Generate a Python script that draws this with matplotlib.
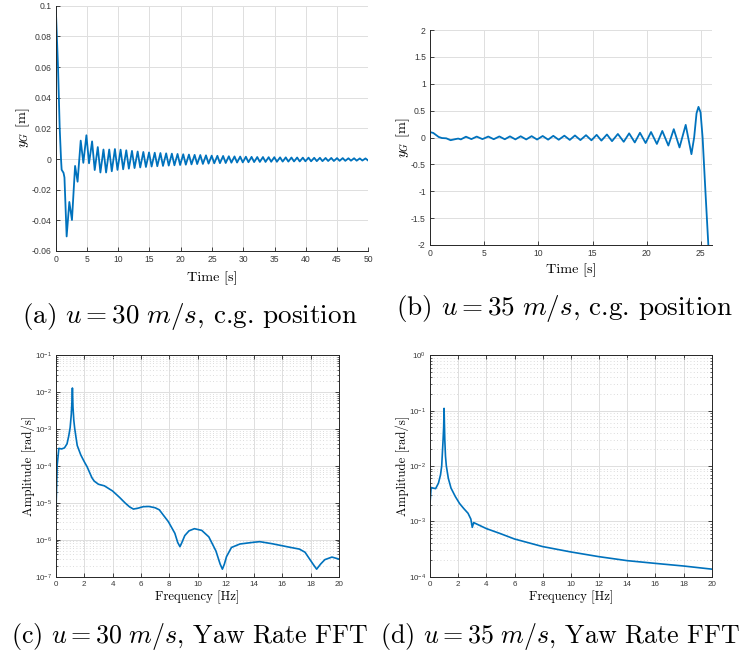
import numpy as np
import matplotlib
matplotlib.use('Agg')
import matplotlib.pyplot as plt
from matplotlib.ticker import LogLocator, NullFormatter, FuncFormatter

plt.rcParams['font.family'] = ['Liberation Sans', 'DejaVu Sans']
plt.rcParams['axes.unicode_minus'] = False

LINE = '#0072BD'
AXC = '#262626'
GRID = '#dfdfdf'
TICKC = '#383838'

# (a) u = 30 m/s, c.g. position: start transient, then oscillation extrema
t_a0 = [0.0, 0.37, 0.64, 0.85, 0.95, 1.25, 1.4, 1.75, 2.18, 2.6, 3.1, 3.5]
y_a0 = [0.1, 0.06, 0.02, 0.0, -0.007, -0.009, -0.012, -0.0505, -0.028, -0.0398, -0.0045, -0.0148]
peak_t_a = [4.00, 4.91, 5.82, 6.73, 7.64, 8.56, 9.47, 10.38, 11.29, 12.20,
            13.11, 14.02, 14.93, 15.84, 16.75, 17.67, 18.58, 19.49, 20.40, 21.31,
            22.22, 23.13, 24.04, 24.95, 25.86, 26.78, 27.69, 28.60, 29.51, 30.42,
            31.33, 32.24, 33.15, 34.06, 34.97, 35.89, 36.80, 37.71, 38.62, 39.53,
            40.44, 41.35, 42.26, 43.17, 44.08, 45.00, 45.91, 46.82, 47.73, 48.64, 49.55]
peak_y_a = [0.0120, 0.0155, 0.0115, 0.0078, 0.0062, 0.0062, 0.0065, 0.0061, 0.0057, 0.0053,
            0.0049, 0.0046, 0.0043, 0.0041, 0.0039, 0.0037, 0.0035, 0.0033, 0.0031, 0.0029,
            0.0027, 0.0026, 0.0024, 0.0022, 0.0021, 0.0020, 0.0018, 0.0017, 0.0016, 0.0015,
            0.0014, 0.0013, 0.0013, 0.0012, 0.0012, 0.0011, 0.0011, 0.0010, 0.0010, 0.0009,
            0.0009, 0.0008, 0.0008, 0.0007, 0.0007, 0.0006, 0.0006, 0.0005, 0.0005, 0.0004, 0.0004]
trough_t_a = [4.42, 5.33, 6.24, 7.15, 8.06, 8.97, 9.88, 10.79, 11.70, 12.61,
              13.52, 14.43, 15.34, 16.25, 17.16, 18.08, 18.99, 19.90, 20.81, 21.72,
              22.63, 23.54, 24.45, 25.36, 26.27, 27.19, 28.10, 29.01, 29.92, 30.83,
              31.74, 32.65, 33.56, 34.47, 35.38, 36.30, 37.21, 38.12, 39.03, 39.94,
              40.85, 41.76, 42.67, 43.58, 44.49, 45.41, 46.32, 47.23, 48.14, 49.05, 49.96]
trough_y_a = [-0.0025, -0.0028, -0.0072, -0.0088, -0.0088, -0.0080, -0.0071, -0.0067, -0.0063, -0.0059,
              -0.0055, -0.0052, -0.0049, -0.0047, -0.0045, -0.0043, -0.0041, -0.0039, -0.0037, -0.0035,
              -0.0033, -0.0032, -0.0030, -0.0028, -0.0027, -0.0026, -0.0024, -0.0023, -0.0022, -0.0021,
              -0.0020, -0.0019, -0.0019, -0.0018, -0.0018, -0.0017, -0.0017, -0.0016, -0.0016, -0.0015,
              -0.0015, -0.0014, -0.0014, -0.0013, -0.0013, -0.0012, -0.0012, -0.0011, -0.0011, -0.0010, -0.0010]
t_a_end, y_a_end = [50.0], [-0.0009]

# (b) u = 35 m/s, c.g. position
t_b0 = [0.0, 0.3, 0.8, 1.1, 1.5, 1.9, 2.35, 2.6, 2.85]
y_b0 = [0.1, 0.085, 0.01, -0.01, -0.015, -0.05, -0.03, -0.02, -0.035]
peak_t_b = [3.32, 4.31, 5.38, 6.40, 7.38, 8.37, 9.38, 10.40, 11.38, 12.40, 13.38,
            14.40, 15.38, 16.33, 17.34, 18.38, 19.38, 20.40, 21.44, 22.50, 23.60]
peak_y_b = [0.015, 0.017, 0.018, 0.020, 0.021, 0.023, 0.025, 0.028, 0.031, 0.034, 0.038,
            0.043, 0.049, 0.056, 0.066, 0.077, 0.088, 0.102, 0.122, 0.155, 0.235]
trough_t_b = [3.82, 4.84, 5.88, 6.90, 7.88, 8.88, 9.88, 10.90, 11.88, 12.90, 13.88,
              14.90, 15.82, 16.80, 17.88, 18.90, 19.90, 20.94, 22.00, 23.03, 24.13]
trough_y_b = [-0.030, -0.030, -0.032, -0.033, -0.035, -0.036, -0.038, -0.040, -0.042, -0.045, -0.048,
              -0.052, -0.058, -0.068, -0.080, -0.092, -0.103, -0.120, -0.150, -0.185, -0.310]
t_b_end = [24.38, 24.60, 24.78, 24.97, 25.16, 25.42, 25.69, 25.82]
y_b_end = [0.0, 0.45, 0.57, 0.47, 0.0, -1.0, -2.0, -2.6]

# (c) yaw rate FFT, u = 30 m/s
f_c = [0.0, 0.08, 0.2, 0.4, 0.6, 0.78, 0.9, 1.0, 1.08, 1.13, 1.16, 1.2, 1.26, 1.32, 1.4,
       1.5, 1.75, 2.0, 2.2, 2.35, 2.54, 2.7, 3.0, 3.42, 4.0, 4.5, 4.88, 5.2, 5.47, 5.8,
       6.17, 6.57, 7.0, 7.3, 7.94, 8.4, 8.6, 8.76, 8.9, 9.1, 9.4, 9.78, 10.3, 10.8, 11.3,
       11.6, 11.76, 11.9, 12.05, 12.4, 13.0, 14.0, 14.4, 15.3, 16.5, 17.2, 17.6, 17.9,
       18.2, 18.42, 18.7, 19.0, 19.5, 20.0]
amp_c = [6e-6, 1e-4, 3e-4, 2.9e-4, 3.1e-4, 4e-4, 6.5e-4, 1.1e-3, 2.5e-3, 6e-3, 1.3e-2, 4e-3,
         1.7e-3, 1.05e-3, 6.5e-4, 3.6e-4, 2e-4, 1.3e-4, 9.5e-5, 7e-5, 4.8e-5, 3.9e-5,
         3.2e-5, 2.9e-5, 2.1e-5, 1.4e-5, 1.0e-5, 7.8e-6, 6.8e-6, 7.2e-6, 7.9e-6, 8.0e-6,
         7.4e-6, 6.5e-6, 3.1e-6, 1.5e-6, 8.5e-7, 6.5e-7, 8.5e-7, 1.3e-6, 1.75e-6, 2.0e-6,
         1.8e-6, 1.2e-6, 5e-7, 2.2e-7, 1.6e-7, 2.2e-7, 3.5e-7, 6.2e-7, 7.7e-7, 8.6e-7,
         8.9e-7, 7.8e-7, 6.3e-7, 5.6e-7, 4.6e-7, 3.1e-7, 2.1e-7, 1.6e-7, 2.2e-7, 2.9e-7,
         3.4e-7, 3.0e-7]

# (d) yaw rate FFT, u = 35 m/s
f_d = [0.0, 0.08, 0.2, 0.4, 0.6, 0.75, 0.83, 0.93, 0.97, 1.0, 1.05, 1.1, 1.16, 1.3, 1.49,
       1.8, 2.1, 2.4, 2.7, 2.9, 3.0, 3.1, 3.5, 4.0, 5.0, 6.0, 8.0, 10.0, 12.0, 14.0, 16.0,
       18.0, 20.0]
amp_d = [2.1e-3, 4.1e-3, 4.0e-3, 3.9e-3, 4.9e-3, 7e-3, 1e-2, 3e-2, 5e-2, 0.11, 3e-2, 1.5e-2,
         1e-2, 6e-3, 4e-3, 2.8e-3, 2.1e-3, 1.7e-3, 1.4e-3, 1.1e-3, 7.8e-4, 9.5e-4, 8.5e-4,
         7.4e-4, 6.0e-4, 4.8e-4, 3.5e-4, 2.8e-4, 2.3e-4, 1.95e-4, 1.74e-4, 1.56e-4, 1.37e-4]

yt_a = [-0.06, -0.04, -0.02, 0, 0.02, 0.04, 0.06, 0.08, 0.1]
yt_b = [-2, -1.5, -1, -0.5, 0, 0.5, 1, 1.5, 2]

captions = [r'(a) $u = 30\ m/s$, c.g. position', r'(b) $u = 35\ m/s$, c.g. position',
            r'(c) $u = 30\ m/s$, Yaw Rate FFT', r'(d) $u = 35\ m/s$, Yaw Rate FFT']


def join(t0, y0, pt, py, tt, ty, te, ye):
    t = list(t0)
    y = list(y0)
    for i in range(len(pt)):
        t.append(pt[i]); y.append(py[i])
        if i < len(tt):
            t.append(tt[i]); y.append(ty[i])
    return np.array(t + list(te)), np.array(y + list(ye))


def style(ax, box, size):
    ax.set_axisbelow(True)
    ax.grid(True, which='major', color=GRID, lw=0.7)
    for s in ax.spines.values():
        s.set_color(AXC)
        s.set_linewidth(0.7)
    if not box:
        ax.spines['top'].set_visible(False)
        ax.spines['right'].set_visible(False)
    ax.tick_params(which='both', direction='in', colors=AXC, labelcolor=TICKC,
                   labelsize=size, pad=3, top=box, right=box)
    ax.tick_params(which='major', length=3, width=0.6)
    ax.tick_params(which='minor', length=1.6, width=0.5)


def label(ax, xl, yl, size, xpad, ypad):
    ax.set_xlabel(xl, family='cmr10', math_fontfamily='cm', fontsize=size, labelpad=xpad)
    ax.set_ylabel(yl, family='cmr10', math_fontfamily='cm', fontsize=size, labelpad=ypad)


fig = plt.figure(figsize=(7.45, 6.56), dpi=100)
W, H = 745.0, 656.0

def add_axes(l, r, t, b):
    return fig.add_axes([l / W, 1 - b / H, (r - l) / W, (b - t) / H])

fmt = FuncFormatter(lambda v, _: f'{v:g}')

ax = add_axes(55.7, 368.3, 5.7, 251)
t, y = join(t_a0, y_a0, peak_t_a, peak_y_a, trough_t_a, trough_y_a, t_a_end, y_a_end)
ax.plot(t, y, color=LINE, lw=1.3)
ax.set_xlim(0, 50)
ax.set_ylim(-0.06, 0.1)
ax.set_xticks(range(0, 51, 5))
ax.set_yticks(yt_a)
ax.yaxis.set_major_formatter(fmt)
style(ax, False, 6.2)
label(ax, 'Time [s]', r'$y_G$ [m]', 10.2, 5.5, 0)

ax = add_axes(430, 711.7, 30, 245)
t, y = join(t_b0, y_b0, peak_t_b, peak_y_b, trough_t_b, trough_y_b, t_b_end, y_b_end)
ax.plot(t, y, color=LINE, lw=1.3)
ax.set_xlim(0, 26)
ax.set_ylim(-2, 2)
ax.set_xticks(range(0, 26, 5))
ax.set_yticks(yt_b)
ax.yaxis.set_major_formatter(fmt)
style(ax, False, 6.2)
label(ax, 'Time [s]', r'$y_G$ [m]', 10.2, 3.5, -1)

for (l, r), f, a, lim in [((56, 339), f_c, amp_c, (1e-7, 1e-1)),
                          ((430, 711.7), f_d, amp_d, (1e-4, 1e0))]:
    ax = add_axes(l, r, 355.3, 576.7)
    ax.semilogy(f, a, color=LINE, lw=1.2)
    ax.set_xlim(0, 20)
    ax.set_ylim(*lim)
    ax.set_xticks(range(0, 21, 2))
    ax.yaxis.set_major_locator(LogLocator(base=10, numticks=12))
    ax.yaxis.set_minor_locator(LogLocator(base=10, subs=np.arange(2, 10), numticks=12))
    ax.yaxis.set_minor_formatter(NullFormatter())
    style(ax, True, 5.8)
    ax.grid(True, which='minor', axis='y', color='#d0d0d0', lw=0.6, dashes=(1, 3))
    label(ax, 'Frequency [Hz]', 'Amplitude [rad/s]', 9.2, 2, -1)

cap_pos = [(190, 316, 19.5), (565, 308, 19.5), (190, 637, 18.7), (560, 637, 18.7)]
for (x, yy, fs), c in zip(cap_pos, captions):
    fig.text(x / W, 1 - yy / H, c, ha='center', va='center', fontsize=fs,
             family='cmr10', math_fontfamily='cm')

fig.savefig('out.png', dpi=100)
